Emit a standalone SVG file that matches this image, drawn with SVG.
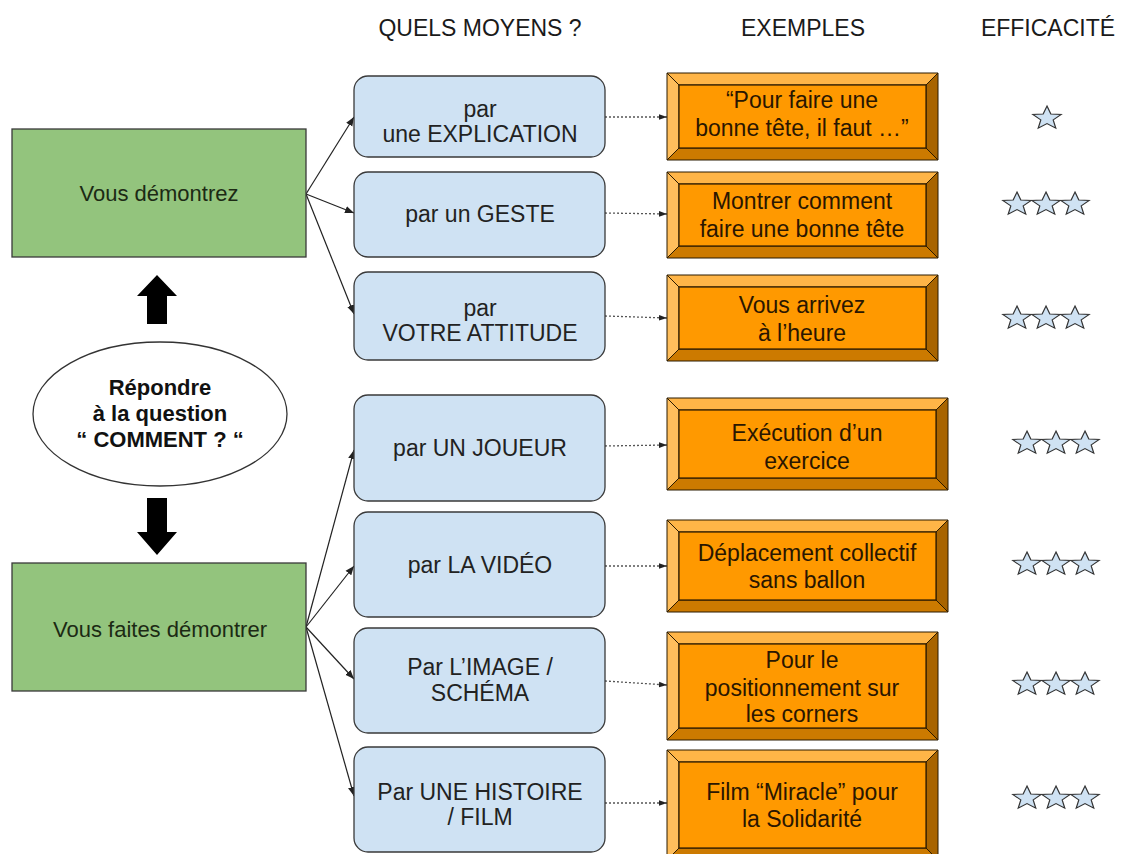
<svg xmlns="http://www.w3.org/2000/svg" width="1124" height="854" viewBox="0 0 1124 854">
<defs>
<style>
text{font-family:"Liberation Sans",Arial,sans-serif;text-anchor:middle;}
.hdr{font-size:23px;fill:#1a1a1a;}
.green{fill:#93c47d;stroke:#3a3a3a;stroke-width:1.3;}
.gtxt{font-size:22px;fill:#1c2a14;}
.blue{fill:#cfe2f3;stroke:#3a3a3a;stroke-width:1.3;}
.btxt{font-size:23px;fill:#222;}
.otxt{font-size:23px;fill:#2a1600;}
.face{fill:#ff9900;stroke:#2a1a00;stroke-width:1.2;}
.bt{fill:#ffb547;stroke:#2a1a00;stroke-width:1;}
.bl{fill:#ffbe5c;stroke:#2a1a00;stroke-width:1;}
.br{fill:#a86400;stroke:#2a1a00;stroke-width:1;}
.bb{fill:#cc7a00;stroke:#2a1a00;stroke-width:1;}
.solid{fill:none;stroke:#222;stroke-width:1.2;marker-end:url(#ah);}
.dot{fill:none;stroke:#555;stroke-width:1.3;stroke-dasharray:2 2;marker-end:url(#ah2);}
.star{fill:#cfe2f3;stroke:#333;stroke-width:1.2;stroke-linejoin:miter;}
.etxt{font-size:22px;font-weight:bold;fill:#111;}
</style>
<marker id="ah" viewBox="0 0 10 10" refX="10" refY="5" markerWidth="9" markerHeight="9" markerUnits="userSpaceOnUse" orient="auto">
<path d="M0,1 L10,5 L0,9 Z" fill="#222"/>
</marker>
<marker id="ah2" viewBox="0 0 10 10" refX="10" refY="5" markerWidth="8" markerHeight="8" markerUnits="userSpaceOnUse" orient="auto">
<path d="M0,1.5 L10,5 L0,8.5 Z" fill="#222"/>
</marker>
<symbol id="st" viewBox="-16 -16 32 32" width="32" height="32" overflow="visible">
<path class="star" transform="translate(0,1.3) scale(1,0.82)" d="M0,-15 L3.82,-5.26 L14.27,-4.64 L6.18,2.01 L8.82,12.14 L0,6.5 L-8.82,12.14 L-6.18,2.01 L-14.27,-4.64 L-3.82,-5.26 Z"/>
</symbol>
</defs>
<rect width="1124" height="854" fill="#ffffff"/>

<g id="headers">
<text class="hdr" x="480" y="36">QUELS MOYENS ?</text>
<text class="hdr" x="803" y="36">EXEMPLES</text>
<text class="hdr" x="1048" y="36">EFFICACITÉ</text>
</g>

<g id="connectors">
<line class="solid" x1="306" y1="194" x2="354" y2="117"/>
<line class="solid" x1="306" y1="194" x2="354" y2="213"/>
<line class="solid" x1="306" y1="194" x2="354" y2="314"/>
<line class="solid" x1="306" y1="627" x2="354" y2="450"/>
<line class="solid" x1="306" y1="627" x2="354" y2="566"/>
<line class="solid" x1="306" y1="627" x2="354" y2="679"/>
<line class="solid" x1="306" y1="627" x2="354" y2="796"/>
<line class="dot" x1="605" y1="117" x2="667" y2="117"/>
<line class="dot" x1="605" y1="213" x2="667" y2="214"/>
<line class="dot" x1="605" y1="316" x2="667" y2="318"/>
<line class="dot" x1="605" y1="446" x2="667" y2="445"/>
<line class="dot" x1="605" y1="566" x2="667" y2="566"/>
<line class="dot" x1="605" y1="681" x2="667" y2="685"/>
<line class="dot" x1="605" y1="803" x2="667" y2="803"/>
</g>

<g id="vous-demontrez">
<rect class="green" x="12" y="129" width="294" height="128"/>
<text class="gtxt" x="159" y="201">Vous démontrez</text>
</g>

<g id="vous-faites-demontrer">
<rect class="green" x="12" y="563" width="294" height="128"/>
<text class="gtxt" x="160" y="637">Vous faites démontrer</text>
</g>

<g id="arrow-up">
<path d="M157,275 L177,296 L167,296 L167,324 L147,324 L147,296 L137,296 Z" fill="#000"/>
</g>

<g id="arrow-down">
<path d="M157,555 L177,532 L167,532 L167,498 L147,498 L147,532 L137,532 Z" fill="#000"/>
</g>

<g id="comment">
<ellipse cx="160" cy="414" rx="127" ry="72" fill="#fff" stroke="#333" stroke-width="1.3"/>
<text class="etxt" x="160" y="395">Répondre</text>
<text class="etxt" x="160" y="421">à la question</text>
<text class="etxt" x="160" y="447">“ COMMENT ? “</text>
</g>

<g id="moyen-1">
<rect class="blue" x="354" y="76" width="251" height="81" rx="14"/>
<text class="btxt" x="480" y="117">par</text>
<text class="btxt" x="480" y="142">une EXPLICATION</text>
</g>
<g id="moyen-2">
<rect class="blue" x="354" y="172" width="251" height="85" rx="14"/>
<text class="btxt" x="480" y="222">par un GESTE</text>
</g>
<g id="moyen-3">
<rect class="blue" x="354" y="272" width="251" height="88" rx="14"/>
<text class="btxt" x="480" y="316">par</text>
<text class="btxt" x="480" y="341">VOTRE ATTITUDE</text>
</g>
<g id="moyen-4">
<rect class="blue" x="354" y="395" width="251" height="106" rx="14"/>
<text class="btxt" x="480" y="456">par UN JOUEUR</text>
</g>
<g id="moyen-5">
<rect class="blue" x="354" y="512" width="251" height="105" rx="14"/>
<text class="btxt" x="480" y="573">par LA VIDÉO</text>
</g>
<g id="moyen-6">
<rect class="blue" x="354" y="628" width="251" height="105" rx="14"/>
<text class="btxt" x="480" y="675">Par L’IMAGE /</text>
<text class="btxt" x="480" y="701">SCHÉMA</text>
</g>
<g id="moyen-7">
<rect class="blue" x="354" y="747" width="251" height="105" rx="14"/>
<text class="btxt" x="480" y="800">Par UNE HISTOIRE</text>
<text class="btxt" x="480" y="825">/ FILM</text>
</g>

<g id="exemple-1">
<polygon class="bt" points="667,73 938,73 926,85 679,85"/>
<polygon class="bl" points="667,73 679,85 679,148 667,160"/>
<polygon class="br" points="938,73 938,160 926,148 926,85"/>
<polygon class="bb" points="667,160 938,160 926,148 679,148"/>
<rect class="face" x="679" y="85" width="247" height="63"/>
<text class="otxt" x="802" y="108">“Pour faire une</text>
<text class="otxt" x="802" y="136">bonne tête, il faut …”</text>
</g>
<g id="exemple-2">
<polygon class="bt" points="667,172 938,172 926,184 679,184"/>
<polygon class="bl" points="667,172 679,184 679,246 667,258"/>
<polygon class="br" points="938,172 938,258 926,246 926,184"/>
<polygon class="bb" points="667,258 938,258 926,246 679,246"/>
<rect class="face" x="679" y="184" width="247" height="62"/>
<text class="otxt" x="802" y="209">Montrer comment</text>
<text class="otxt" x="802" y="237">faire une bonne tête</text>
</g>
<g id="exemple-3">
<polygon class="bt" points="667,275 938,275 926,287 679,287"/>
<polygon class="bl" points="667,275 679,287 679,349 667,361"/>
<polygon class="br" points="938,275 938,361 926,349 926,287"/>
<polygon class="bb" points="667,361 938,361 926,349 679,349"/>
<rect class="face" x="679" y="287" width="247" height="62"/>
<text class="otxt" x="802" y="313">Vous arrivez</text>
<text class="otxt" x="802" y="341">à l’heure</text>
</g>
<g id="exemple-4">
<polygon class="bt" points="667,398 948,398 936,410 679,410"/>
<polygon class="bl" points="667,398 679,410 679,478 667,490"/>
<polygon class="br" points="948,398 948,490 936,478 936,410"/>
<polygon class="bb" points="667,490 948,490 936,478 679,478"/>
<rect class="face" x="679" y="410" width="257" height="68"/>
<text class="otxt" x="807" y="441">Exécution d’un</text>
<text class="otxt" x="807" y="469">exercice</text>
</g>
<g id="exemple-5">
<polygon class="bt" points="667,520 948,520 936,532 679,532"/>
<polygon class="bl" points="667,520 679,532 679,600 667,612"/>
<polygon class="br" points="948,520 948,612 936,600 936,532"/>
<polygon class="bb" points="667,612 948,612 936,600 679,600"/>
<rect class="face" x="679" y="532" width="257" height="68"/>
<text class="otxt" x="807" y="561">Déplacement collectif</text>
<text class="otxt" x="807" y="588">sans ballon</text>
</g>
<g id="exemple-6">
<polygon class="bt" points="667,632 938,632 926,644 679,644"/>
<polygon class="bl" points="667,632 679,644 679,728 667,740"/>
<polygon class="br" points="938,632 938,740 926,728 926,644"/>
<polygon class="bb" points="667,740 938,740 926,728 679,728"/>
<rect class="face" x="679" y="644" width="247" height="84"/>
<text class="otxt" x="802" y="668">Pour le</text>
<text class="otxt" x="802" y="696">positionnement sur</text>
<text class="otxt" x="802" y="722">les corners</text>
</g>
<g id="exemple-7">
<polygon class="bt" points="667,750 938,750 926,762 679,762"/>
<polygon class="bl" points="667,750 679,762 679,848 667,860"/>
<polygon class="br" points="938,750 938,860 926,848 926,762"/>
<polygon class="bb" points="667,860 938,860 926,848 679,848"/>
<rect class="face" x="679" y="762" width="247" height="86"/>
<text class="otxt" x="802" y="800">Film “Miracle” pour</text>
<text class="otxt" x="802" y="827">la Solidarité</text>
</g>

<g id="efficacite">
<use href="#st" x="1031" y="101"/>
<use href="#st" x="1001" y="187"/><use href="#st" x="1030" y="187"/><use href="#st" x="1059" y="187"/>
<use href="#st" x="1001" y="301"/><use href="#st" x="1030" y="301"/><use href="#st" x="1059" y="301"/>
<use href="#st" x="1011" y="426"/><use href="#st" x="1040" y="426"/><use href="#st" x="1069" y="426"/>
<use href="#st" x="1011" y="547"/><use href="#st" x="1040" y="547"/><use href="#st" x="1069" y="547"/>
<use href="#st" x="1011" y="667"/><use href="#st" x="1040" y="667"/><use href="#st" x="1069" y="667"/>
<use href="#st" x="1011" y="781"/><use href="#st" x="1040" y="781"/><use href="#st" x="1069" y="781"/>
</g>
</svg>
